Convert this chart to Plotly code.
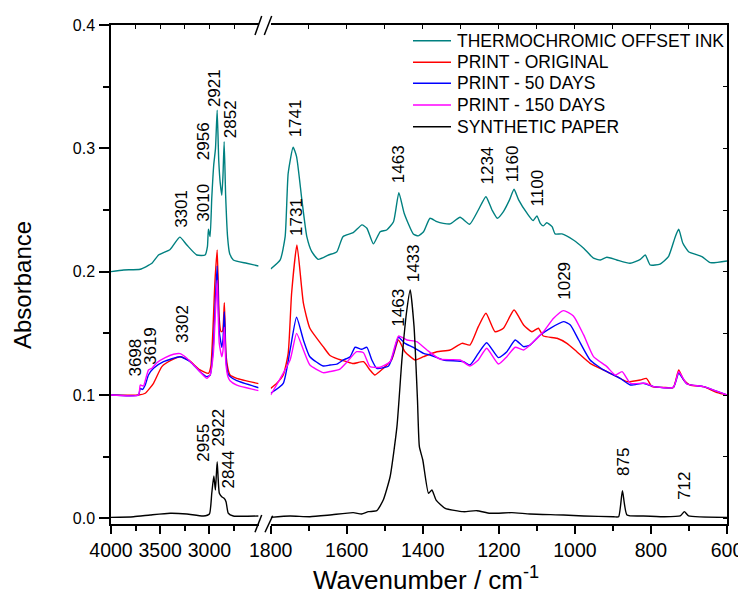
import plotly.graph_objects as go

# ---------------- data ----------------
series_names = ["THERMOCHROMIC OFFSET INK", "PRINT - ORIGINAL", "PRINT - 50 DAYS",
                "PRINT - 150 DAYS", "SYNTHETIC PAPER"]
series_colors = ["#008080", "#FF0000", "#0000FF", "#FF00FF", "#000000"]

# high-wavenumber segment (4000-2500 cm-1)
ink_hi_wn = [4000, 3872, 3703, 3584, 3517, 3399, 3301, 3229, 3128, 3044, 3020, 3010, 2993, 2976,
             2956, 2938, 2921, 2905, 2890, 2874, 2862, 2850, 2835, 2815, 2795, 2757, 2621, 2500]
ink_hi_a = [.200, .2014, .202, .2068, .2135, .218, .228, .2216, .2135, .2135, .2203, .2344, .2284, .2595,
            .2865, .300, .331, .290, .272, .262, .278, .3054, .262, .228, .215, .2095, .2068, .2046]

orig_hi_wn = [4000, 3720, 3652, 3568, 3483, 3382, 3297, 3213, 3095, 3010, 2986, 2960, 2945, 2921,
              2900, 2882, 2866, 2848, 2832, 2812, 2790, 2722, 2500]
orig_hi_a = [.100, .100, .1014, .1095, .123, .1284, .131, .1284, .1203, .1176, .123, .1608, .19, .2176,
             .162, .1513, .152, .1749, .134, .1216, .1162, .1135, .1092]

d50_hi_wn = [4000, 3720, 3703, 3680, 3652, 3619, 3568, 3466, 3297, 3196, 3095, 3027, 2993, 2960,
             2940, 2921, 2900, 2874, 2862, 2848, 2832, 2812, 2790, 2722, 2500]
d50_hi_a = [.100, .100, .1054, .1045, .1081, .1162, .1216, .127, .131, .127, .1189, .1149, .116, .140,
            .175, .2046, .152, .1387, .145, .1676, .130, .1176, .1149, .1116, .1059]

d150_hi_wn = [4000, 3720, 3703, 3680, 3669, 3619, 3584, 3534, 3449, 3365, 3297, 3229, 3128, 3027,
              2993, 2960, 2940, 2921, 2900, 2874, 2862, 2848, 2832, 2812, 2790, 2722, 2500]
d150_hi_a = [.100, .100, .1081, .1075, .1073, .1203, .1217, .1262, .1303, .133, .1335, .1298, .1217, .1135,
             .1162, .1338, .165, .193, .142, .131, .136, .155, .125, .115, .1115, .108, .1035]

paper_hi_wn = [4000, 3771, 3601, 3399, 3229, 3061, 3000, 2976, 2955, 2939, 2921, 2899, 2875, 2851,
               2831, 2808, 2757, 2500]
paper_hi_a = [.0008, .0013, .0027, .0041, .0035, .0019, .0035, .0203, .0343, .023, .0459, .0203, .0175, .0162,
              .0135, .0041, .0019, .0019]

# low-wavenumber segment (1800-600 cm-1)
ink_lo_wn = [1800, 1775, 1762, 1754, 1741, 1732, 1718, 1705, 1692, 1675, 1648, 1626, 1610, 1583, 1560,
             1547, 1530, 1512, 1495, 1477, 1463, 1449, 1425, 1412, 1398, 1381, 1363, 1346, 1328, 1302,
             1277, 1254, 1234, 1218, 1204, 1188, 1172, 1160, 1148, 1126, 1110, 1100, 1091, 1083, 1074,
             1060, 1052, 1034, 1004, 977, 951, 933, 916, 890, 855, 828, 815, 802, 776, 754, 736, 727,
             716, 701, 666, 644, 600]
ink_lo_a = [.2022, .2095, .2284, .2798, .3009, .2933, .2582, .2284, .2162, .21, .2135, .2162, .2284, .2316, .2379,
            .2352, .2225, .2324, .2338, .2405, .2641, .2474, .2306, .229, .2324, .2433, .2405, .2392, .2387, .2441,
            .2384, .25, .2608, .25, .2433, .2487, .2582, .2668, .2582, .2474, .2414, .2452, .2392, .2371, .2397,
            .2365, .2306, .2306, .2257, .219, .2109, .2095, .2117, .2095, .2068, .21, .2135, .2054, .2062, .2122,
            .2284, .2344, .223, .2162, .2122, .2073, .2087]

orig_lo_wn = [1800, 1784, 1767, 1754, 1745, 1731, 1714, 1697, 1662, 1644, 1626, 1600, 1583, 1556, 1539,
              1526, 1504, 1482, 1464, 1447, 1420, 1398, 1363, 1328, 1297, 1276, 1254, 1234, 1210, 1188,
              1160, 1135, 1113, 1096, 1083, 1047, 1021, 995, 960, 925, 889, 863, 828, 812, 797, 767,
              741, 727, 714, 697, 662, 626, 600]
orig_lo_a = [.1054, .1095, .1162, .1338, .1825, .2217, .1744, .1541, .1392, .132, .1295, .127, .1255, .127, .1203,
             .1162, .1216, .1284, .1446, .1351, .1284, .1311, .1351, .1365, .1419, .1405, .1554, .1663, .1513, .1541,
             .1689, .1568, .1513, .1541, .1478, .146, .1419, .1351, .1257, .1203, .1149, .1108, .1122, .1135, .1068, .1062,
             .1062, .1203, .1122, .1081, .1068, .1019, .100]

d50_lo_wn = [1800, 1767, 1749, 1732, 1714, 1697, 1662, 1644, 1626, 1609, 1591, 1578, 1561, 1547, 1534,
             1521, 1490, 1477, 1464, 1447, 1425, 1398, 1381, 1346, 1293, 1276, 1254, 1232, 1201, 1179,
             1157, 1135, 1118, 1091, 1065, 1030, 1012, 990, 960, 925, 898, 881, 854, 820, 793, 741,
             727, 705, 662, 600]
d50_lo_a = [.1014, .1095, .1365, .163, .1446, .131, .1235, .1243, .125, .1284, .1311, .1387, .1371, .1387, .1284,
            .1216, .1235, .1338, .1468, .1419, .1387, .1338, .1324, .1284, .127, .1243, .1338, .1424, .1303, .1351,
            .1446, .1392, .1405, .1487, .1541, .1595, .1568, .1446, .1284, .1203, .1162, .1135, .1081, .1095, .1068, .1062,
            .1176, .1089, .1068, .100]

d150_lo_wn = [1800, 1749, 1732, 1714, 1697, 1662, 1644, 1618, 1600, 1574, 1556, 1539, 1512, 1486, 1464,
              1442, 1416, 1389, 1354, 1302, 1276, 1254, 1232, 1201, 1179, 1157, 1135, 1118, 1083, 1056,
              1030, 1004, 977, 951, 916, 894, 876, 854, 815, 793, 741, 727, 705, 662, 600]
d150_lo_a = [.100, .1284, .150, .1365, .1243, .1181, .119, .121, .1265, .1351, .1343, .123, .1225, .127, .1478,
             .1446, .1432, .1365, .129, .1284, .1235, .1284, .1379, .1251, .1311, .1387, .1365, .1405, .1513, .1622,
             .1684, .1641, .1487, .1311, .123, .1162, .1189, .1095, .1095, .1068, .1062, .1189, .1089, .1068, .100]

paper_lo_wn = [1800, 1749, 1697, 1644, 1583, 1561, 1543, 1521, 1504, 1486, 1468, 1455, 1442, 1433, 1423,
               1414, 1409, 1400, 1385, 1376, 1365, 1341, 1293, 1258, 1223, 1166, 1118, 1030, 977, 898,
               885, 875, 863, 820, 767, 723, 712, 701, 600]
paper_lo_a = [.0008, .0019, .0013, .0027, .0046, .0035, .0054, .0062, .0148, .0337, .0743, .1284, .1689, .1852, .1554,
              .0959, .0581, .0473, .0203, .023, .0148, .0081, .0054, .0062, .0041, .0046, .0035, .0027, .0019, .0013,
              .0013, .0224, .0027, .0019, .0013, .0019, .0054, .0019, .0008]

hi_data = [(ink_hi_wn, ink_hi_a), (orig_hi_wn, orig_hi_a), (d50_hi_wn, d50_hi_a),
           (d150_hi_wn, d150_hi_a), (paper_hi_wn, paper_hi_a)]
lo_data = [(ink_lo_wn, ink_lo_a), (orig_lo_wn, orig_lo_a), (d50_lo_wn, d50_lo_a),
           (d150_lo_wn, d150_lo_a), (paper_lo_wn, paper_lo_a)]

# peak labels: (text, axis, wavenumber position, absorbance at label base)
peak_labels = [
    ("3301", "x", 3280, .2338), ("3010", "x", 3061, .2392), ("2956", "x", 3061, .2891),
    ("2921", "x", 2942, .3319), ("2852", "x", 2790, .3067),
    ("3698", "x", 3754, .1135), ("3619", "x", 3601, .1229), ("3302", "x", 3280, .1405),
    ("2955", "x", 3061, .0446), ("2922", "x", 2909, .0568), ("2844", "x", 2807, .0229),
    ("1741", "x2", 1736, .3073), ("1731", "x2", 1732, .227), ("1463", "x2", 1462, .2703),
    ("1234", "x2", 1229, .2689), ("1160", "x2", 1162, .2708), ("1100", "x2", 1098, .2514),
    ("1029", "x2", 1026, .1756), ("1433", "x2", 1425, .1900), ("1463", "x2", 1464, .1541),
    ("875", "x2", 872, .0324), ("712", "x2", 710, .0135),
]

hi_ticks = [4000, 3500, 3000]
hi_minor = [3750, 3250, 2750]
lo_ticks = [1800, 1600, 1400, 1200, 1000, 800, 600]
lo_minor = [1700, 1500, 1300, 1100, 900, 700]
y_ticks = [0.0, 0.1, 0.2, 0.3, 0.4]

# ---------------- figure ----------------
FONT = "Arial, Liberation Sans, sans-serif"

fig = go.Figure()
for i, name in enumerate(series_names):
    for seg, (xa, data) in enumerate([("x", hi_data[i]), ("x2", lo_data[i])]):
        fig.add_trace(go.Scatter(
            x=data[0], y=data[1], mode="lines", name=name,
            line=dict(color=series_colors[i], width=1.4, shape="spline", smoothing=0.5),
            xaxis=xa, yaxis="y", legendgroup=name, showlegend=False,
        ))

# The page body has an 8px margin; the figure is sized so the plot area lands at
# screen x 111..727, y 25..524 inside the 746x601 window.
OFF = 8
SL, SR, ST, SB = 111, 727, 25, 524          # plot area in screen pixels
W, H = 746 - OFF, 601 - OFF
L, T = SL - OFF, ST - OFF
R, B = W - (SR - OFF), H - (SB - OFF)
PW, PH = SR - SL, SB - ST


def px(xp):
    return (xp - SL) / PW


def py(yp):
    return (SB - yp) / PH


dom_hi = [0, px(258.6)]
dom_lo = [px(270.7), 1]
yrange = [-0.0046, 0.4]

axis_common = dict(showgrid=False, zeroline=False, showline=True, linecolor="black",
                   linewidth=1.5)
xtickfont = dict(size=19.5)

fig.update_layout(
    width=W, height=H,
    margin=dict(l=L, r=R, t=T, b=B, autoexpand=False),
    paper_bgcolor="white", plot_bgcolor="white",
    font=dict(family=FONT, color="black"),
    showlegend=False,
    xaxis=dict(domain=dom_hi, range=[4000, 2500], anchor="y", tickangle=0,
               tickmode="array", tickvals=hi_ticks, ticks="outside", ticklen=8, tickwidth=1.5,
               tickcolor="black", tickfont=xtickfont,
               minor=dict(tickvals=hi_minor, ticks="outside", ticklen=5, tickwidth=1.5, tickcolor="black"),
               **axis_common),
    xaxis2=dict(domain=dom_lo, range=[1800, 600], anchor="y", tickangle=0,
                tickmode="array", tickvals=lo_ticks, ticks="outside", ticklen=8, tickwidth=1.5,
                tickcolor="black", tickfont=xtickfont,
                minor=dict(tickvals=lo_minor, ticks="outside", ticklen=5, tickwidth=1.5, tickcolor="black"),
                **axis_common),
    xaxis3=dict(domain=dom_hi, range=[4000, 2500], anchor="y", overlaying="x", side="top",
                tickmode="array", tickvals=hi_ticks + hi_minor, ticks="inside", ticklen=4,
                tickcolor="black", showticklabels=False, **axis_common),
    xaxis4=dict(domain=dom_lo, range=[1800, 600], anchor="y", overlaying="x2", side="top",
                tickmode="array", tickvals=lo_ticks + lo_minor, ticks="inside", ticklen=4,
                tickcolor="black", showticklabels=False, **axis_common),
    yaxis=dict(range=yrange, anchor="x", tickmode="array", tickvals=y_ticks, tickformat=".1f",
               ticks="outside", ticklen=10, tickwidth=1.5, tickcolor="black",
               tickfont=dict(size=16), ticklabelstandoff=1,
               minor=dict(dtick=0.05, tick0=0, ticks="outside", ticklen=6, tickwidth=1.5, tickcolor="black"),
               **axis_common),
    yaxis2=dict(range=yrange, anchor="x2", overlaying="y", side="right", tickmode="array",
                tickvals=[0, 0.05, 0.1, 0.15, 0.2, 0.25, 0.3, 0.35, 0.4], ticks="inside", ticklen=4,
                tickcolor="black", showticklabels=False, **axis_common),
)

# invisible carrier traces for the mirrored frame axes
fig.add_trace(go.Scatter(x=[None], y=[None], xaxis="x3", yaxis="y", showlegend=False, hoverinfo="skip"))
fig.add_trace(go.Scatter(x=[None], y=[None], xaxis="x4", yaxis="y2", showlegend=False, hoverinfo="skip"))

annotations = []
shapes = []
for text, xa, xv, yv in peak_labels:
    annotations.append(dict(text=text, x=xv, y=yv, xref=xa, yref="y", textangle=-90,
                            xanchor="center", yanchor="bottom", showarrow=False,
                            font=dict(size=17, color="black")))
annotations.append(dict(text="Absorbance", x=px(22), y=py(285), xref="paper", yref="paper",
                        textangle=-90, showarrow=False, xanchor="center", yanchor="middle",
                        font=dict(size=24)))
annotations.append(dict(text="Wavenumber / cm<sup>-1</sup>", x=px(426), y=py(578), xref="paper",
                        yref="paper", showarrow=False, xanchor="center", yanchor="middle",
                        font=dict(size=26)))

# legend (drawn entries): line sample + label per series
legend_rows = [40.7, 62.3, 83.3, 105.0, 126.7]
for i, name in enumerate(series_names):
    yy = py(legend_rows[i])
    shapes.append(dict(type="line", xref="paper", yref="paper", x0=px(413), x1=px(451),
                       y0=yy, y1=yy, line=dict(color=series_colors[i], width=1.4)))
    annotations.append(dict(text=name, x=px(455), y=yy, xref="paper", yref="paper",
                            xanchor="left", yanchor="middle", showarrow=False,
                            font=dict(size=17.5, color="black")))

# axis-break marks
for (x0, y0, x1, y1) in [(255, 532.3, 261.7, 515), (265, 532.3, 272.7, 515.7),
                         (255, 35, 261.7, 16), (264.3, 35, 271.7, 16)]:
    shapes.append(dict(type="line", xref="paper", yref="paper", x0=px(x0), y0=py(y0),
                       x1=px(x1), y1=py(y1), line=dict(color="black", width=1.5)))

fig.update_layout(annotations=annotations, shapes=shapes)

fig.write_html("out.html")
